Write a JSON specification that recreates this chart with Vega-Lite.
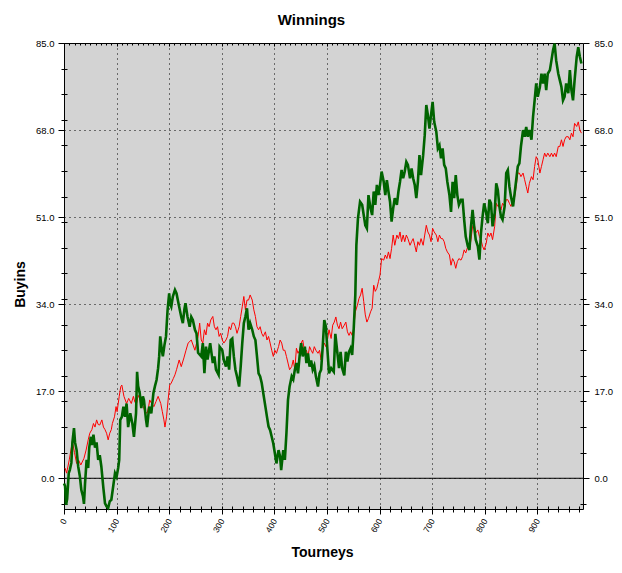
{
  "$schema": "https://vega.github.io/schema/vega-lite/v6.json",
  "description": "Winnings in buyins over tourneys, two running totals.",
  "width": 519,
  "height": 466,
  "autosize": {"type": "none"},
  "padding": {"left": 64, "top": 43, "right": 39, "bottom": 64},
  "title": {
    "text": "Winnings",
    "font": "Liberation Sans",
    "fontSize": 15,
    "fontWeight": "bold",
    "color": "black",
    "offset": 10,
    "dx": -12
  },
  "datasets": {
    "adjusted": [
      {"t":2,"v":2},{"t":5,"v":1},{"t":10,"v":3.6},{"t":16,"v":7.2},{"t":20,"v":5},{"t":24,"v":2.9},{"t":28,"v":3.5},{"t":32,"v":2.6},{"t":38,"v":3.9},{"t":42,"v":5.5},{"t":46,"v":7.5},{"t":49,"v":8.8},{"t":53,"v":9.5},{"t":56,"v":10.7},{"t":59,"v":10},{"t":62,"v":11.4},{"t":65,"v":10.5},{"t":68,"v":10.4},{"t":72,"v":11.4},{"t":75,"v":10},{"t":78,"v":9.5},{"t":81,"v":8.8},{"t":84,"v":7.5},{"t":87,"v":8.8},{"t":90,"v":9.5},{"t":92,"v":10.7},{"t":96,"v":12},{"t":99,"v":14},{"t":101,"v":13},{"t":105,"v":16},{"t":108,"v":17.9},{"t":110,"v":18.2},{"t":114,"v":16},{"t":119,"v":14.6},{"t":123,"v":15.6},{"t":128,"v":14.6},{"t":132,"v":16},{"t":135,"v":14.8},{"t":138,"v":14.6},{"t":141,"v":16.2},{"t":144,"v":15.6},{"t":147,"v":14.8},{"t":151,"v":14},{"t":154,"v":13},{"t":158,"v":12.7},{"t":161,"v":14},{"t":163,"v":15.3},{"t":167,"v":14.5},{"t":171,"v":14},{"t":175,"v":15},{"t":179,"v":16},{"t":184,"v":14.6},{"t":187,"v":13},{"t":190,"v":11.4},{"t":192,"v":10},{"t":195,"v":12},{"t":198,"v":15.3},{"t":201,"v":18.2},{"t":204,"v":18.6},{"t":208,"v":19.5},{"t":211,"v":20.2},{"t":214,"v":21.2},{"t":219,"v":23.1},{"t":223,"v":21.8},{"t":228,"v":23.5},{"t":232,"v":25},{"t":236,"v":26.4},{"t":242,"v":27},{"t":249,"v":25},{"t":255,"v":27.7},{"t":258,"v":30.3},{"t":261,"v":27},{"t":264,"v":26.4},{"t":267,"v":29},{"t":270,"v":28},{"t":273,"v":30.3},{"t":276,"v":29.6},{"t":279,"v":30.9},{"t":283,"v":31.6},{"t":286,"v":29.6},{"t":289,"v":29},{"t":292,"v":29.6},{"t":295,"v":27.7},{"t":298,"v":28.3},{"t":301,"v":27},{"t":304,"v":26.4},{"t":308,"v":27},{"t":311,"v":27.7},{"t":314,"v":29.6},{"t":317,"v":29},{"t":320,"v":30.3},{"t":323,"v":30.3},{"t":326,"v":29.6},{"t":329,"v":28.3},{"t":333,"v":29.6},{"t":336,"v":31.6},{"t":339,"v":33.5},{"t":342,"v":35.5},{"t":345,"v":32.9},{"t":348,"v":34.8},{"t":351,"v":34.8},{"t":354,"v":35.8},{"t":358,"v":34.8},{"t":361,"v":32.9},{"t":364,"v":31.6},{"t":367,"v":29.6},{"t":370,"v":29},{"t":373,"v":29.6},{"t":376,"v":28.3},{"t":379,"v":27.7},{"t":383,"v":28.6},{"t":386,"v":27},{"t":389,"v":27.7},{"t":392,"v":26.4},{"t":395,"v":25},{"t":398,"v":23.8},{"t":401,"v":25},{"t":404,"v":24.4},{"t":408,"v":25.7},{"t":411,"v":27},{"t":414,"v":26.4},{"t":417,"v":25},{"t":420,"v":25},{"t":423,"v":23.8},{"t":426,"v":22.5},{"t":429,"v":21.2},{"t":433,"v":21.8},{"t":436,"v":23.1},{"t":439,"v":21.2},{"t":442,"v":25.4},{"t":445,"v":24.4},{"t":448,"v":25},{"t":451,"v":26.4},{"t":454,"v":27},{"t":458,"v":24.4},{"t":461,"v":25},{"t":464,"v":23.8},{"t":467,"v":25.7},{"t":470,"v":25},{"t":473,"v":24.4},{"t":476,"v":25.7},{"t":479,"v":25},{"t":483,"v":24.4},{"t":486,"v":25},{"t":489,"v":23.1},{"t":492,"v":25.7},{"t":495,"v":26.4},{"t":498,"v":25.7},{"t":501,"v":27},{"t":504,"v":29},{"t":508,"v":27.3},{"t":511,"v":29.9},{"t":514,"v":30.5},{"t":517,"v":31.5},{"t":520,"v":29.9},{"t":523,"v":29.2},{"t":526,"v":30.5},{"t":529,"v":29.2},{"t":533,"v":29.9},{"t":536,"v":30.5},{"t":539,"v":28.6},{"t":542,"v":27.9},{"t":545,"v":28.6},{"t":548,"v":27.9},{"t":551,"v":29.3},{"t":554,"v":32.5},{"t":558,"v":33.8},{"t":561,"v":35.1},{"t":564,"v":35.8},{"t":567,"v":37.1},{"t":570,"v":34.5},{"t":573,"v":31.9},{"t":576,"v":30.5},{"t":579,"v":31.2},{"t":583,"v":32.5},{"t":586,"v":33.2},{"t":589,"v":37.7},{"t":592,"v":36.5},{"t":595,"v":37.1},{"t":598,"v":38.4},{"t":601,"v":39.7},{"t":604,"v":42.9},{"t":608,"v":42.6},{"t":611,"v":43.6},{"t":614,"v":42.9},{"t":617,"v":44.2},{"t":620,"v":42.9},{"t":623,"v":44.9},{"t":626,"v":47.5},{"t":629,"v":45.5},{"t":633,"v":47.5},{"t":636,"v":46.8},{"t":639,"v":48.1},{"t":642,"v":46.2},{"t":645,"v":47.5},{"t":648,"v":46.2},{"t":651,"v":47.5},{"t":654,"v":46.8},{"t":658,"v":45.5},{"t":661,"v":46.2},{"t":664,"v":46.8},{"t":667,"v":45.5},{"t":670,"v":44.2},{"t":673,"v":46.2},{"t":676,"v":45.5},{"t":679,"v":46.8},{"t":683,"v":45.5},{"t":686,"v":47.5},{"t":689,"v":49.4},{"t":692,"v":48.1},{"t":695,"v":47.5},{"t":698,"v":46.2},{"t":701,"v":48.8},{"t":704,"v":48.1},{"t":708,"v":47.5},{"t":711,"v":46.2},{"t":714,"v":47.5},{"t":717,"v":46.8},{"t":720,"v":46.8},{"t":723,"v":46.2},{"t":726,"v":44.9},{"t":729,"v":44.2},{"t":733,"v":43.6},{"t":736,"v":41.6},{"t":739,"v":42.9},{"t":742,"v":42.3},{"t":745,"v":41},{"t":748,"v":42.3},{"t":751,"v":42.9},{"t":755,"v":42.6},{"t":758,"v":43.3},{"t":761,"v":44.6},{"t":764,"v":44},{"t":768,"v":45.3},{"t":771,"v":44.6},{"t":774,"v":46.6},{"t":777,"v":49.2},{"t":780,"v":49.8},{"t":783,"v":47.9},{"t":787,"v":48.5},{"t":790,"v":47.2},{"t":793,"v":46.6},{"t":796,"v":45.3},{"t":799,"v":44.6},{"t":803,"v":45.9},{"t":806,"v":47.9},{"t":809,"v":47.2},{"t":812,"v":47.9},{"t":815,"v":46.6},{"t":819,"v":49.2},{"t":822,"v":53.7},{"t":825,"v":53.1},{"t":828,"v":53.1},{"t":831,"v":52.4},{"t":834,"v":53.7},{"t":838,"v":53.1},{"t":841,"v":54.4},{"t":844,"v":54.4},{"t":847,"v":53.7},{"t":850,"v":53.1},{"t":854,"v":54.4},{"t":857,"v":55},{"t":860,"v":57},{"t":863,"v":59.6},{"t":866,"v":59.6},{"t":869,"v":58.9},{"t":873,"v":59.6},{"t":876,"v":58.3},{"t":879,"v":57},{"t":882,"v":55.7},{"t":885,"v":57.6},{"t":889,"v":58.9},{"t":892,"v":58.3},{"t":895,"v":60.9},{"t":898,"v":62.8},{"t":901,"v":62.2},{"t":905,"v":59.6},{"t":908,"v":60.9},{"t":911,"v":62.2},{"t":914,"v":63.5},{"t":917,"v":62.8},{"t":920,"v":63.5},{"t":924,"v":62.8},{"t":927,"v":63.5},{"t":930,"v":62.8},{"t":933,"v":63.5},{"t":936,"v":62.8},{"t":940,"v":64.8},{"t":943,"v":64.8},{"t":946,"v":66.1},{"t":949,"v":64.8},{"t":952,"v":66.1},{"t":955,"v":66.7},{"t":959,"v":66.7},{"t":962,"v":66.1},{"t":965,"v":67.4},{"t":968,"v":66.7},{"t":971,"v":69.3},{"t":975,"v":68.7},{"t":978,"v":69.6},{"t":981,"v":68},{"t":984,"v":67.4}
    ],
    "actual": [
      {"t":0,"v":-1},{"t":2,"v":-1.5},{"t":4,"v":-5.2},{"t":6,"v":-4},{"t":9,"v":1},{"t":11,"v":1.6},{"t":14,"v":3},{"t":16,"v":7},{"t":19,"v":9.8},{"t":21,"v":7},{"t":24,"v":5.5},{"t":27,"v":2.3},{"t":30,"v":0.5},{"t":33,"v":-2.3},{"t":36,"v":-3.5},{"t":38,"v":-5},{"t":40,"v":-1},{"t":43,"v":3.6},{"t":46,"v":2},{"t":48,"v":6},{"t":51,"v":8.1},{"t":53,"v":6.5},{"t":56,"v":8.5},{"t":59,"v":6},{"t":62,"v":7},{"t":65,"v":3.6},{"t":68,"v":4.5},{"t":71,"v":2.3},{"t":75,"v":-2},{"t":78,"v":-4.9},{"t":81,"v":-5.5},{"t":84,"v":-5.8},{"t":87,"v":-4.5},{"t":90,"v":-4.2},{"t":93,"v":-2},{"t":97,"v":1},{"t":100,"v":0.3},{"t":103,"v":2},{"t":105,"v":3.6},{"t":107,"v":11.4},{"t":110,"v":12},{"t":113,"v":14},{"t":116,"v":12},{"t":119,"v":14.6},{"t":122,"v":10},{"t":126,"v":12.7},{"t":130,"v":10.7},{"t":133,"v":8.1},{"t":137,"v":12.7},{"t":139,"v":20.8},{"t":141,"v":18},{"t":144,"v":16.6},{"t":147,"v":13.7},{"t":150,"v":16},{"t":152,"v":15.3},{"t":156,"v":11.4},{"t":158,"v":10},{"t":162,"v":14},{"t":166,"v":12.7},{"t":170,"v":16.6},{"t":173,"v":18},{"t":176,"v":19.2},{"t":179,"v":21.5},{"t":181,"v":23.8},{"t":183,"v":27.7},{"t":186,"v":25},{"t":188,"v":23.8},{"t":191,"v":26},{"t":194,"v":27.7},{"t":197,"v":32.9},{"t":200,"v":36.1},{"t":202,"v":34},{"t":204,"v":33.5},{"t":207,"v":35.5},{"t":211,"v":36.8},{"t":214,"v":36.1},{"t":217,"v":34.5},{"t":219,"v":33.5},{"t":223,"v":31.5},{"t":226,"v":30.3},{"t":229,"v":33},{"t":231,"v":34.2},{"t":235,"v":31.5},{"t":239,"v":29.6},{"t":242,"v":31.5},{"t":245,"v":30.9},{"t":249,"v":29},{"t":252,"v":28.3},{"t":255,"v":24.5},{"t":261,"v":23.8},{"t":264,"v":26.4},{"t":267,"v":20.5},{"t":270,"v":25.7},{"t":273,"v":23.2},{"t":278,"v":26.4},{"t":283,"v":22.5},{"t":286,"v":23.8},{"t":289,"v":21.2},{"t":294,"v":20.2},{"t":296,"v":25.7},{"t":301,"v":25},{"t":304,"v":23},{"t":308,"v":21.8},{"t":311,"v":23.8},{"t":314,"v":21.2},{"t":317,"v":27},{"t":320,"v":27.3},{"t":323,"v":23.8},{"t":326,"v":21.2},{"t":329,"v":19.9},{"t":333,"v":17.9},{"t":336,"v":21.8},{"t":339,"v":26.4},{"t":342,"v":30.3},{"t":345,"v":31.6},{"t":348,"v":33.2},{"t":351,"v":29},{"t":354,"v":30.3},{"t":358,"v":29},{"t":361,"v":27.7},{"t":364,"v":27},{"t":367,"v":23.8},{"t":370,"v":20.5},{"t":373,"v":19.9},{"t":376,"v":18.6},{"t":379,"v":16.6},{"t":383,"v":14},{"t":386,"v":12},{"t":389,"v":10.1},{"t":392,"v":9.4},{"t":395,"v":8.1},{"t":398,"v":6.8},{"t":401,"v":4.9},{"t":404,"v":2.9},{"t":408,"v":5.5},{"t":411,"v":4.2},{"t":413,"v":1.6},{"t":415,"v":3.6},{"t":417,"v":5.5},{"t":420,"v":3.6},{"t":423,"v":8.8},{"t":426,"v":15.3},{"t":429,"v":17.9},{"t":433,"v":19.9},{"t":436,"v":19.3},{"t":439,"v":21.2},{"t":442,"v":22.5},{"t":445,"v":20.5},{"t":448,"v":23.8},{"t":451,"v":26.4},{"t":454,"v":23.8},{"t":458,"v":25.7},{"t":461,"v":22.5},{"t":464,"v":24.4},{"t":467,"v":21.8},{"t":470,"v":23},{"t":473,"v":21.2},{"t":476,"v":22},{"t":479,"v":19.9},{"t":483,"v":17.9},{"t":486,"v":20.5},{"t":489,"v":21.2},{"t":492,"v":25.7},{"t":495,"v":30.9},{"t":498,"v":29.6},{"t":501,"v":25},{"t":504,"v":20.5},{"t":508,"v":21.5},{"t":513,"v":20.8},{"t":516,"v":28.2},{"t":520,"v":24.4},{"t":523,"v":21.5},{"t":526,"v":24.7},{"t":529,"v":21.5},{"t":533,"v":20.1},{"t":536,"v":24.7},{"t":539,"v":22.8},{"t":542,"v":24.7},{"t":545,"v":25.4},{"t":548,"v":24.1},{"t":551,"v":29.3},{"t":554,"v":35.8},{"t":556,"v":45.5},{"t":559,"v":50.7},{"t":563,"v":54},{"t":567,"v":53.4},{"t":570,"v":51.4},{"t":573,"v":49.4},{"t":576,"v":48.8},{"t":579,"v":55.3},{"t":583,"v":52.7},{"t":586,"v":51.4},{"t":589,"v":56},{"t":592,"v":53.4},{"t":595,"v":57.3},{"t":598,"v":55.3},{"t":601,"v":57.3},{"t":604,"v":59.9},{"t":608,"v":57.9},{"t":611,"v":55.3},{"t":614,"v":58.2},{"t":617,"v":56},{"t":620,"v":54},{"t":623,"v":50.1},{"t":626,"v":52.7},{"t":629,"v":54.7},{"t":633,"v":53.4},{"t":636,"v":56},{"t":639,"v":57.9},{"t":642,"v":60.2},{"t":645,"v":58.6},{"t":648,"v":59.9},{"t":651,"v":61.8},{"t":654,"v":61.2},{"t":658,"v":58.6},{"t":661,"v":60.5},{"t":664,"v":58.6},{"t":667,"v":57.3},{"t":670,"v":54.7},{"t":673,"v":57.9},{"t":676,"v":63.1},{"t":679,"v":59.2},{"t":683,"v":63.1},{"t":686,"v":67},{"t":689,"v":72.9},{"t":692,"v":70.9},{"t":695,"v":68.3},{"t":698,"v":70.9},{"t":701,"v":73.5},{"t":704,"v":69.6},{"t":708,"v":67.7},{"t":711,"v":64.4},{"t":714,"v":65},{"t":717,"v":62.5},{"t":720,"v":64.4},{"t":723,"v":61.2},{"t":726,"v":60.5},{"t":729,"v":57.9},{"t":733,"v":55.3},{"t":736,"v":52},{"t":739,"v":57.9},{"t":742,"v":54.7},{"t":745,"v":59.2},{"t":748,"v":55.3},{"t":751,"v":53.4},{"t":755,"v":54.4},{"t":758,"v":54.4},{"t":761,"v":50.5},{"t":764,"v":47.2},{"t":768,"v":45.3},{"t":771,"v":44.6},{"t":774,"v":49.2},{"t":777,"v":52.4},{"t":780,"v":49.2},{"t":783,"v":46.6},{"t":787,"v":45.3},{"t":790,"v":42.7},{"t":793,"v":47.9},{"t":796,"v":51.1},{"t":799,"v":53.7},{"t":803,"v":51.8},{"t":806,"v":49.8},{"t":809,"v":54.4},{"t":812,"v":53.7},{"t":815,"v":49.2},{"t":819,"v":51.8},{"t":822,"v":57.6},{"t":825,"v":56.3},{"t":828,"v":53.1},{"t":831,"v":51.1},{"t":834,"v":50.5},{"t":838,"v":53.1},{"t":841,"v":59.6},{"t":844,"v":60.2},{"t":847,"v":57},{"t":850,"v":55},{"t":854,"v":53.1},{"t":857,"v":55.7},{"t":860,"v":58.3},{"t":863,"v":60.9},{"t":866,"v":61.5},{"t":869,"v":64.8},{"t":873,"v":68},{"t":876,"v":66.7},{"t":879,"v":68.6},{"t":882,"v":66.7},{"t":885,"v":68},{"t":889,"v":66.1},{"t":892,"v":70.6},{"t":895,"v":73.8},{"t":898,"v":77.1},{"t":901,"v":74.5},{"t":905,"v":76.4},{"t":908,"v":79},{"t":911,"v":77.1},{"t":914,"v":79},{"t":917,"v":75.8},{"t":920,"v":79},{"t":924,"v":79.7},{"t":927,"v":81.6},{"t":930,"v":83.6},{"t":933,"v":84.9},{"t":936,"v":81.6},{"t":940,"v":79},{"t":943,"v":77.7},{"t":946,"v":76.4},{"t":949,"v":73.8},{"t":952,"v":74.5},{"t":955,"v":77.1},{"t":959,"v":75.2},{"t":962,"v":79.7},{"t":965,"v":75.8},{"t":968,"v":73.8},{"t":971,"v":77.7},{"t":975,"v":82.3},{"t":978,"v":84.2},{"t":981,"v":82.3},{"t":984,"v":81}
    ]
  },
  "layer": [
    {
      "data": {"values": [{"v": 0}]},
      "mark": {"type": "rule", "color": "black", "strokeWidth": 1},
      "encoding": {
        "y": {"field": "v", "type": "quantitative", "axis": null}
      }
    },
    {
      "data": {"name": "adjusted"},
      "mark": {"type": "line", "color": "#ff0000", "strokeWidth": 1},
      "encoding": {
        "x": {
          "field": "t", "type": "quantitative",
          "scale": {"domain": [0, 987], "nice": false, "zero": false},
          "axis": {
            "orient": "bottom",
            "values": [0, 100, 200, 300, 400, 500, 600, 700, 800, 900],
            "grid": true, "domain": false, "tickSize": 5,
            "labelAngle": -60, "labelFontSize": 8.5, "labelPadding": 5,
            "title": "Tourneys", "titleFontSize": 14, "titleFontWeight": "bold",
            "titleX": 258, "titleY": 43, "titleBaseline": "middle"
          }
        },
        "y": {
          "field": "v", "type": "quantitative",
          "scale": {"domain": [-6, 85], "nice": false, "zero": false},
          "axis": {
            "orient": "left",
            "values": [0, 17, 34, 51, 68, 85],
            "format": ".1f",
            "grid": true, "domain": false, "tickSize": 6,
            "labelFontSize": 9.5, "labelPadding": 4,
            "title": "Buyins", "titleFontSize": 14, "titleFontWeight": "bold",
            "titleX": -44, "titleY": 241, "titleBaseline": "middle"
          }
        }
      }
    },
    {
      "data": {"name": "actual"},
      "mark": {"type": "line", "color": "#006400", "strokeWidth": 2.6},
      "encoding": {
        "x": {
          "field": "t", "type": "quantitative",
          "axis": {
            "orient": "top",
            "values": [0, 100, 200, 300, 400, 500, 600, 700, 800, 900],
            "grid": false, "domain": false, "labels": false,
            "offset": -3, "tickSize": 3, "title": null
          }
        },
        "y": {
          "field": "v", "type": "quantitative",
          "axis": {
            "orient": "right",
            "values": [0, 17, 34, 51, 68, 85],
            "format": ".1f",
            "grid": false, "domain": false, "tickSize": 6,
            "labelFontSize": 9.5, "labelPadding": 5, "title": null
          }
        }
      }
    },
    {
      "data": {"name": "actual"},
      "mark": {"type": "line", "opacity": 0},
      "encoding": {
        "x": {
          "field": "t", "type": "quantitative",
          "axis": {
            "orient": "bottom",
            "values": [0, 20, 40, 60, 80, 100, 120, 140, 160, 180, 200, 220, 240, 260, 280, 300, 320, 340, 360, 380, 400, 420, 440, 460, 480, 500, 520, 540, 560, 580, 600, 620, 640, 660, 680, 700, 720, 740, 760, 780, 800, 820, 840, 860, 880, 900, 920, 940, 960, 980],
            "grid": false, "domain": false, "labels": false,
            "offset": -3, "tickSize": 6, "title": null
          }
        },
        "y": {
          "field": "v", "type": "quantitative",
          "axis": {
            "orient": "left",
            "values": [-5, 5, 10, 15, 20, 25, 30, 35, 40, 45, 50, 55, 60, 65, 70, 75, 80],
            "grid": false, "domain": false, "labels": false,
            "offset": -3, "tickSize": 6, "title": null
          }
        }
      }
    },
    {
      "data": {"name": "actual"},
      "mark": {"type": "line", "opacity": 0},
      "encoding": {
        "x": {
          "field": "t", "type": "quantitative",
          "axis": {
            "orient": "top",
            "values": [10, 20, 30, 40, 50, 60, 70, 80, 90, 110, 120, 130, 140, 150, 160, 170, 180, 190, 210, 220, 230, 240, 250, 260, 270, 280, 290, 310, 320, 330, 340, 350, 360, 370, 380, 390, 410, 420, 430, 440, 450, 460, 470, 480, 490, 510, 520, 530, 540, 550, 560, 570, 580, 590, 610, 620, 630, 640, 650, 660, 670, 680, 690, 710, 720, 730, 740, 750, 760, 770, 780, 790, 810, 820, 830, 840, 850, 860, 870, 880, 890, 910, 920, 930, 940, 950, 960, 970, 980],
            "grid": false, "domain": false, "labels": false,
            "offset": -2, "tickSize": 2, "title": null
          }
        },
        "y": {
          "field": "v", "type": "quantitative",
          "axis": {
            "orient": "right",
            "values": [-5, 5, 10, 15, 20, 25, 30, 35, 40, 45, 50, 55, 60, 65, 70, 75, 80],
            "grid": false, "domain": false, "labels": false,
            "offset": -3, "tickSize": 6, "title": null
          }
        }
      }
    }
  ],
  "resolve": {"axis": {"x": "independent", "y": "independent"}},
  "config": {
    "background": "white",
    "font": "Liberation Sans",
    "view": {"fill": "#d3d3d3", "stroke": "black", "strokeWidth": 1},
    "axis": {
      "labelFont": "Liberation Sans",
      "labelColor": "black",
      "titleFont": "Liberation Sans",
      "titleColor": "black",
      "tickColor": "black",
      "tickWidth": 1,
      "domainColor": "black",
      "gridColor": "black",
      "gridDash": [1, 4],
      "gridOpacity": 1,
      "gridWidth": 1
    }
  }
}
